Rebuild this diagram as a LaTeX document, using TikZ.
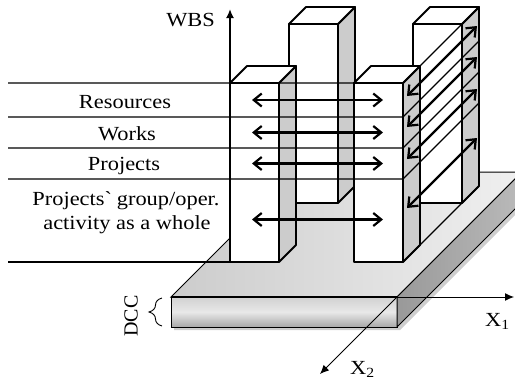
\documentclass[tikz,border=0pt]{standalone}
\usepackage{fontspec}
\setmainfont[FakeStretch=1.12]{Liberation Serif}
\newfontfamily\uprightserif{Liberation Serif}
\usetikzlibrary{arrows.meta,decorations.pathreplacing}
\begin{document}
\begin{tikzpicture}[x=1pt,y=-1pt,z={(1pt,1pt)},
  edge/.style={draw=black,line width=1.8pt,line join=round},
  frontface/.style={edge,fill=white},
  topface/.style={edge,fill=white},
  sideface/.style={edge,fill=black!20},
  level/.style={line width=1.1pt},
  link/.style={line width=2.2pt,
    {Straight Barb[length=8pt,width=13pt,line width=2.2pt]}-{Straight Barb[length=8pt,width=13pt,line width=2.2pt]}},
  axis/.style={line width=1pt,-{Latex[length=9pt,width=8pt]}},
  lbl/.style={font=\fontsize{20}{22}\selectfont,inner sep=0pt},
  tower/.pic={
    \path[sideface] (49,262,0) -- (49,262,17) -- (49,83,17) -- (49,83,0) -- cycle;
    \path[topface] (0,83,0) -- (49,83,0) -- (49,83,17) -- (0,83,17) -- cycle;
    \path[frontface] (0,83,0) -- (49,83,0) -- (49,262,0) -- (0,262,0) -- cycle;
  }]
\useasboundingbox (0,0) rectangle (515,381);
\clip (0,0) rectangle (515,381);

% base plate (DCC) with its shadow
\fill[black!35,opacity=.55] (174,300) -- (400,300) -- (525,175) -- (525,205) -- (400,330) -- (174,330) -- cycle;
\path[left color=black!20,right color=black!6,draw=black,line width=1pt]
  (171,297) -- (397,297) -- (522,172) -- (296,172) -- cycle;
\path[top color=black!18,bottom color=black!34,middle color=black!9,draw=black,line width=1pt]
  (171,297) rectangle (397,327);
\path[left color=black!40,right color=black!27,draw=black,line width=1pt]
  (397,297) -- (522,172) -- (522,202) -- (397,327) -- cycle;
\draw[line width=1.8pt] (171,297) -- (397,297);

% towers: back row first, then front row
\pic at (354,0,59) {tower};
\pic at (230,0,59) {tower};
\pic at (354,0,0) {tower};
\pic at (230,0,0) {tower};

% level lines of the WBS
\foreach \h in {83,117,148,179}
  \draw[level] (8,\h,0) -- (403,\h,0) -- (403,\h,76);
\draw[level] (8,262,0) -- (230,262,0);
\draw[level] (403,262,0) -- (403,262,76);

% links between towers
\foreach \h in {100,132.5,163.5,219.5}
  \draw[link] (252,\h,0) -- (383,\h,0);
\foreach \h in {100,131,163,212}
  \draw[link] (403,\h,4) -- (403,\h,74);

% axes
\coordinate (wbs0) at (230,262);
\coordinate (wbs1) at (230,9);
\draw[line width=1.8pt,-{Latex[length=9pt,width=8pt]}] (wbs0) -- (wbs1);
\coordinate (org) at (397,297);
\coordinate (x1end) at (514,297);
\coordinate (x2end) at (320,374);
\draw[axis] (org) -- (x1end);
\draw[axis] (org) -- (x2end);

% labels
\node[lbl,anchor=base east] (wbs) at (215,26) {WBS};
\node[lbl,anchor=base] (res) at (125,108) {Resources};
\node[lbl,anchor=base] (works) at (127,140) {Works};
\node[lbl,anchor=base] (proj) at (124,170) {Projects};
\node[lbl,anchor=base] (grp) at (126,205) {Projects\textasciigrave{} group/oper.};
\node[lbl,anchor=base] (act) at (127,229) {activity as a whole};
\node[lbl,anchor=base west] (x1) at (485,326) {X\textsubscript{1}};
\node[lbl,anchor=base west] (x2) at (350,374) {X\textsubscript{2}};
\node[lbl,font=\uprightserif\fontsize{20}{22}\selectfont,rotate=90] (dcc) at (131,316) {DCC};
\draw[line width=0.9pt,decorate,decoration={brace,amplitude=13pt}] (162,326) -- (162,298);
\end{tikzpicture}
\end{document}
